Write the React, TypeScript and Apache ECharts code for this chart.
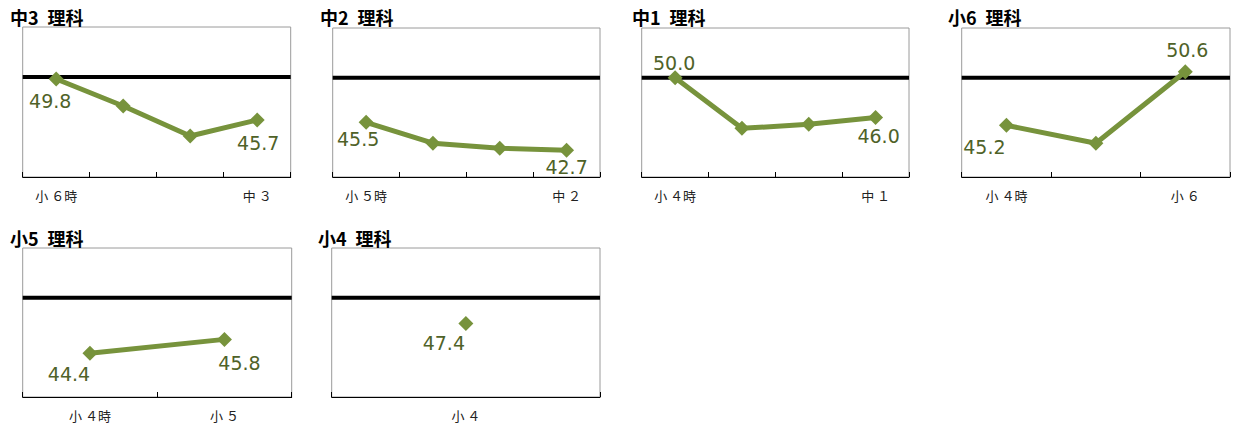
import React, { useEffect, useRef } from 'react';
import * as echarts from 'echarts';

// ---- data ----
const panelTitles = ['中3\u2002理科', '中2\u2002理科', '中1\u2002理科', '小6\u2002理科', '小5\u2002理科', '小4\u2002理科'];

const cats1 = ['小 ６時', '', '', '中 ３'];
const cats2 = ['小 ５時', '', '', '中 ２'];
const cats3 = ['小 ４時', '', '', '中 １'];
const cats4 = ['小 ４時', '', '小 ６'];
const cats5 = ['小 ４時', '小 ５'];
const cats6 = ['小 ４'];

const vals1 = [49.8, 47.1, 44.1, 45.7];
const vals2 = [45.5, 43.4, 42.9, 42.7];
const vals3 = [50.0, 44.9, 45.3, 46.0];
const vals4 = [45.2, 43.4, 50.6];
const vals5 = [44.4, 45.8];
const vals6 = [47.4];

const referenceValue = 50;
const yMin = 40;
const yMax = 55;

const panelCategories = [cats1, cats2, cats3, cats4, cats5, cats6];
const panelValues = [vals1, vals2, vals3, vals4, vals5, vals6];

// ---- layout / style ----
const layout = [
  { left: 22.7, top: 27, width: 268, height: 150, tx: 10, ty: 8 },
  { left: 332.7, top: 28, width: 267.3, height: 149, tx: 320, ty: 8 },
  { left: 641.7, top: 28, width: 267.3, height: 149, tx: 632, ty: 8 },
  { left: 961.7, top: 28, width: 268.3, height: 149, tx: 948, ty: 8 },
  { left: 22.7, top: 248, width: 269, height: 149, tx: 10, ty: 229 },
  { left: 331.7, top: 248, width: 268.3, height: 149, tx: 318, ty: 229 },
];

// label offsets for [first, last] labelled points
const labelOffsets: number[][][] = [
  [[-6, 22], [1, 23]],
  [[-8, 17], [0, 17]],
  [[-1, -15], [3, 19]],
  [[-22, 22], [2, -22]],
  [[-21, 21], [15, 24]],
  [[-22, 20]],
];

const GREEN = '#77933c';
const LABEL_GREEN = '#4f6228';

export default function App() {
  const ref = useRef<HTMLDivElement>(null);

  useEffect(() => {
    if (!ref.current) return;
    const chart = echarts.init(ref.current, null, { renderer: 'svg' });

    const grid: any[] = [];
    const xAxis: any[] = [];
    const yAxis: any[] = [];
    const series: any[] = [];
    const title: any[] = [];

    layout.forEach((l, i) => {
      title.push({
        text: panelTitles[i],
        left: l.tx,
        top: l.ty,
        padding: 0,
        textStyle: { fontSize: 18, fontWeight: 'bold', color: '#000', fontFamily: 'Noto Sans CJK JP' },
      });
      grid.push({
        left: l.left,
        top: l.top,
        width: l.width,
        height: l.height,
        show: true,
        borderColor: '#9a9a9a',
        borderWidth: 1,
        backgroundColor: 'transparent',
        containLabel: false,
      });
      xAxis.push({
        type: 'category',
        gridIndex: i,
        data: panelCategories[i],
        boundaryGap: true,
        axisLine: { show: true, lineStyle: { color: '#000', width: 1 } },
        axisTick: { show: true, inside: true, length: 5, lineStyle: { color: '#000' } },
        axisLabel: { interval: 0, margin: 12, fontSize: 13, color: '#222', fontFamily: 'Noto Sans CJK JP' },
      });
      xAxis.push({ type: 'value', gridIndex: i, min: 0, max: 1, show: false });
      yAxis.push({ type: 'value', gridIndex: i, min: yMin, max: yMax, show: false });

      series.push({
        type: 'line',
        xAxisIndex: 2 * i + 1,
        yAxisIndex: i,
        data: [[0, referenceValue], [1, referenceValue]],
        symbol: 'none',
        silent: true,
        lineStyle: { color: '#000', width: 4 },
        z: 1,
      });

      const vals = panelValues[i];
      const offs = labelOffsets[i];
      const data = vals.map((v, j) => {
        let off: number[] | null = null;
        if (j === 0) off = offs[0];
        else if (j === vals.length - 1) off = offs[offs.length - 1];
        if (!off) return { value: v };
        return {
          value: v,
          label: {
            show: true,
            position: 'inside',
            offset: off,
            formatter: (p: any) => Number(p.value).toFixed(1),
            fontSize: 19,
            fontFamily: 'DejaVu Sans',
            color: LABEL_GREEN,
          },
        };
      });
      series.push({
        type: 'line',
        xAxisIndex: 2 * i,
        yAxisIndex: i,
        data,
        symbol: 'diamond',
        symbolSize: 15,
        itemStyle: { color: GREEN },
        lineStyle: { color: GREEN, width: 5 },
        label: { show: false },
        z: 3,
      });
    });

    chart.setOption({
      animation: false,
      backgroundColor: '#fff',
      title,
      grid,
      xAxis,
      yAxis,
      series,
    });

    return () => chart.dispose();
  }, []);

  return (
    <div
      ref={ref}
      style={{ position: 'absolute', left: 0, top: 0, width: 1238, height: 428, background: '#fff' }}
    />
  );
}
